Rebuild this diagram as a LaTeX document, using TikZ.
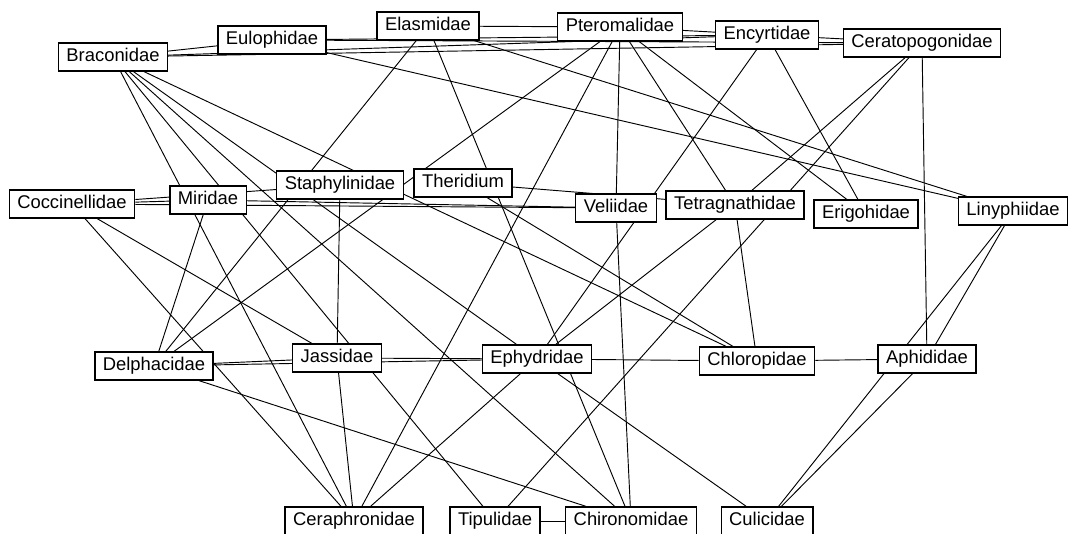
\documentclass[tikz,border=0pt]{standalone}
\usepackage{fontspec}
\setmainfont{Liberation Sans}
\usetikzlibrary{backgrounds}
\begin{document}
\begin{tikzpicture}[x=0.75pt,y=-0.75pt,
    taxon/.style={draw, fill=white, line width=1pt, font=\fontsize{13.8}{16}\selectfont,
      inner xsep=6pt, inner ysep=0pt, minimum height=21pt, text height=10pt, text depth=3pt},
    link/.style={line width=0.7pt}]
    \useasboundingbox (0,0) rectangle (1073,534);
    \clip (0,0) rectangle (1073,534);

    % parasitoids
    \node[taxon] (bra) at (113,57) {Braconidae};
    \node[taxon] (eul) at (272,40) {Eulophidae};
    \node[taxon] (ela) at (428,26) {Elasmidae};
    \node[taxon] (pte) at (620,27) {Pteromalidae};
    \node[taxon] (enc) at (767,35) {Encyrtidae};
    \node[taxon] (cer) at (922,43) {Ceratopogonidae};
    % predators
    \node[taxon] (coc) at (72,204) {Coccinellidae};
    \node[taxon] (mir) at (208,200) {Miridae};
    \node[taxon] (sta) at (340,185) {Staphylinidae};
    \node[taxon] (the) at (463,183) {Theridium};
    \node[taxon] (vel) at (616,208) {Veliidae};
    \node[taxon] (tet) at (735,205) {Tetragnathidae};
    \node[taxon] (eri) at (866,214) {Erigohidae};
    \node[taxon] (lin) at (1013,211) {Linyphiidae};
    % herbivores
    \node[taxon] (del) at (154,366) {Delphacidae};
    \node[taxon] (jas) at (337,358) {Jassidae};
    \node[taxon] (eph) at (537,359) {Ephydridae};
    \node[taxon] (chl) at (757,361) {Chloropidae};
    \node[taxon] (aph) at (927,359) {Aphididae};
    % bottom row
    \node[taxon] (cph) at (354,521) {Ceraphronidae};
    \node[taxon] (tip) at (495,521) {Tipulidae};
    \node[taxon] (chi) at (631,521) {Chironomidae};
    \node[taxon] (cul) at (767,521) {Culicidae};

    \begin{scope}[on background layer]
    \foreach \a/\b in {bra/eul, bra/enc, bra/cer, eul/enc, eul/cer, ela/pte, pte/enc, enc/cer,
        bra/cph, bra/tip, bra/chi, bra/eph, bra/chl, eul/lin,
        ela/del, ela/chi, ela/lin, pte/del, pte/cph, pte/vel, pte/tet, pte/eri,
        enc/eph, enc/eri, cer/tet, cer/tip, cer/aph,
        coc/mir, coc/sta, coc/vel, coc/cph, coc/jas, mir/del, mir/vel,
        sta/jas, the/tet, the/chl, vel/chi, tet/eph, tet/chl, lin/aph, lin/cul,
        del/jas, del/eph, del/chi, jas/eph, jas/cph, eph/chl, eph/cph, eph/cul,
        chl/aph, aph/cul, tip/chi}
        \draw[link] (\a) -- (\b);
    \end{scope}
\end{tikzpicture}
\end{document}
